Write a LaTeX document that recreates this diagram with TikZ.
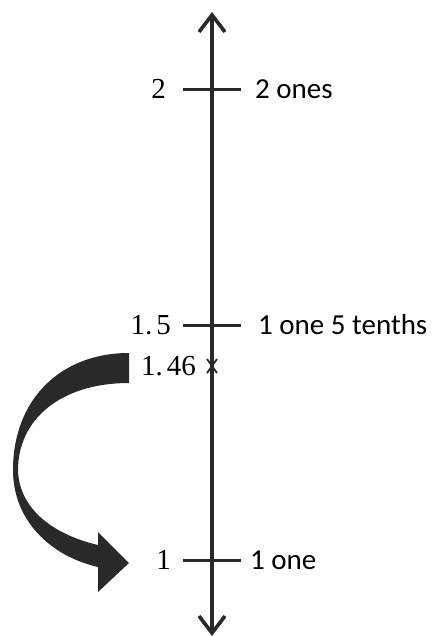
\documentclass[tikz,border=0pt]{standalone}
\usepackage{fontspec}
\setmainfont{Carlito}
\newfontfamily\numfont{Liberation Serif}
\usetikzlibrary{arrows.meta}
\definecolor{ink}{gray}{0.16}
\tikzset{
  axisline/.style={draw=ink, line width=4pt,
    {Straight Barb[length=17pt,width=26pt,line width=3.6pt]}-{Straight Barb[length=17pt,width=26pt,line width=3.6pt]}},
  tickline/.style={draw=ink, line width=3pt},
  crossline/.style={draw=ink, line width=1.8pt},
  lab/.style={inner sep=0pt, text=black, font=\fontsize{29}{34}\selectfont},
  num/.style={inner sep=0pt, text=black, font=\numfont\fontsize{29}{34}\selectfont},
  bigarrow/.style={fill=ink, draw=none}
}
\begin{document}
\begin{tikzpicture}[x=1pt,y=-1pt]
\useasboundingbox (0,0) rectangle (438,637);
% axis
\coordinate (top) at (212,12);
\coordinate (bot) at (212,636);
\draw[axisline] (bot) -- (top);
% marks
\coordinate (p2) at (212,89);
\coordinate (p15) at (212,325);
\coordinate (p146) at (212,366);
\coordinate (p1) at (212,560);
\draw[tickline] ([xshift=-29pt]p2) -- ([xshift=29pt]p2);
\draw[tickline] ([xshift=-29pt]p15) -- ([xshift=29pt]p15);
\draw[tickline] ([xshift=-29pt]p1) -- ([xshift=29pt]p1);
\draw[crossline] ([shift={(-5pt,7pt)}]p146) -- ([shift={(5pt,-7pt)}]p146);
\draw[crossline] ([shift={(5pt,7pt)}]p146) -- ([shift={(-5pt,-7pt)}]p146);
% labels
\node[num, anchor=base east] (n2) at (166,98) {2};
\node[lab, anchor=base west] (l2) at (255,98) {2 ones};
\node[num, anchor=base east] (n15) at (171,334) {1.\kern4pt 5};
\node[lab, anchor=base west] (l15) at (258,334) {1 one 5 tenths};
\node[num, anchor=base east] (n146) at (196,375) {1.\kern4pt 46};
\node[num, anchor=base east] (n1) at (171,569) {1};
\node[lab, anchor=base west] (l1) at (250,569) {1 one};
% curved arrow
\fill[bigarrow] (129,353) .. controls (60,353) and (13,400) .. (13,470)
  .. controls (13,520) and (50,556) .. (98,567)
  -- (98,592) -- (129,563) -- (98,532) -- (98,545)
  .. controls (55,535) and (19,510) .. (18,470)
  .. controls (18,420) and (60,383) .. (129,383) -- cycle;
\end{tikzpicture}
\end{document}
